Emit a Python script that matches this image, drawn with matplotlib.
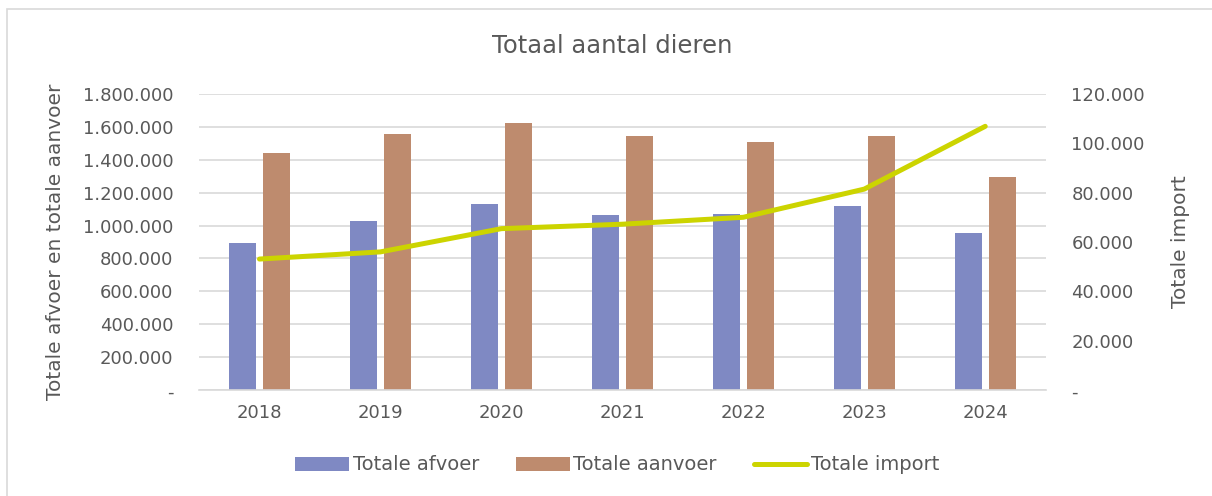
import matplotlib.pyplot as plt
import matplotlib.ticker as mticker
from matplotlib.patches import Rectangle
import numpy as np

# waarden
jaren = ['2018', '2019', '2020', '2021', '2022', '2023', '2024']
afvoer = [895000, 1027000, 1129000, 1066000, 1068000, 1120000, 955000]
aanvoer = [1438000, 1555000, 1624000, 1541000, 1509000, 1541000, 1294000]
invoer = [53100, 56000, 65400, 67200, 70000, 81400, 106800]

kleur_afvoer = '#7F89C3'
kleur_aanvoer = '#BE8B6E'
kleur_import = '#CCD400'
tekst = '#595959'

plt.rcParams['font.family'] = ['DejaVu Sans']


def punt_fmt(v, pos):
    if v == 0:
        return '-'
    return f'{int(round(v)):,}'.replace(',', '.')


fig = plt.figure(figsize=(12.12, 4.96), dpi=100)
fig.patches.append(Rectangle((7 / 1212, -0.05), 1.1, 1 - 9 / 496 + 0.05,
                             transform=fig.transFigure, fill=False,
                             edgecolor='#D9D9D9', linewidth=1.2))

ax = fig.add_axes([199 / 1212, 1 - 390.3 / 496, 846.7 / 1212, 296.6 / 496])
x = np.arange(len(jaren))
b = 0.223
ax.bar(x - 0.142, afvoer, b, color=kleur_afvoer, label='Totale afvoer', zorder=2)
ax.bar(x + 0.141, aanvoer, b, color=kleur_aanvoer, label='Totale aanvoer', zorder=2)
ax.set_xlim(-0.5, len(jaren) - 0.5)
ax.set_ylim(0, 1800000)
ax.set_yticks(np.arange(0, 1800001, 200000))
ax.yaxis.set_major_formatter(mticker.FuncFormatter(punt_fmt))
ax.set_xticks(x)
ax.set_xticklabels(jaren)
ax.grid(axis='y', color='#D9D9D9', linewidth=1.2, zorder=0)
ax.set_axisbelow(True)
for s in ['top', 'left', 'right']:
    ax.spines[s].set_visible(False)
ax.spines['bottom'].set_color('#D9D9D9')
ax.spines['bottom'].set_linewidth(1.2)
ax.tick_params(axis='both', length=0, labelsize=13, colors=tekst)
ax.tick_params(axis='y', pad=18.5)
ax.tick_params(axis='x', pad=10)
ax.set_ylabel('Totale afvoer en totale aanvoer', fontsize=14.5, color=tekst, labelpad=13)

ax2 = ax.twinx()
ax2.plot(x, invoer, color=kleur_import, linewidth=3.6, label='Totale import',
         solid_capstyle='round', zorder=3)
ax2.set_ylim(0, 120000)
ax2.set_yticks(np.arange(0, 120001, 20000))
ax2.yaxis.set_major_formatter(mticker.FuncFormatter(punt_fmt))
for s in ['top', 'left', 'right', 'bottom']:
    ax2.spines[s].set_visible(False)
ax2.tick_params(axis='y', length=0, labelsize=13, colors=tekst, pad=18.5)
ax2.set_ylabel('Totale import', fontsize=14.5, color=tekst, labelpad=19)

fig.text(0.505, 1 - 46 / 496, 'Totaal aantal dieren', ha='center', va='center',
         fontsize=17.5, color=tekst)

h1, l1 = ax.get_legend_handles_labels()
h2, l2 = ax2.get_legend_handles_labels()
fig.legend(h1 + h2, l1 + l2, loc='center', bbox_to_anchor=(617.5 / 1212, 1 - 465 / 496),
           ncol=3, frameon=False, fontsize=14, labelcolor=tekst,
           handlelength=2.75, handletextpad=0.2, columnspacing=1.9,
           borderpad=0, borderaxespad=0)

fig.savefig('out.png', dpi=100)
